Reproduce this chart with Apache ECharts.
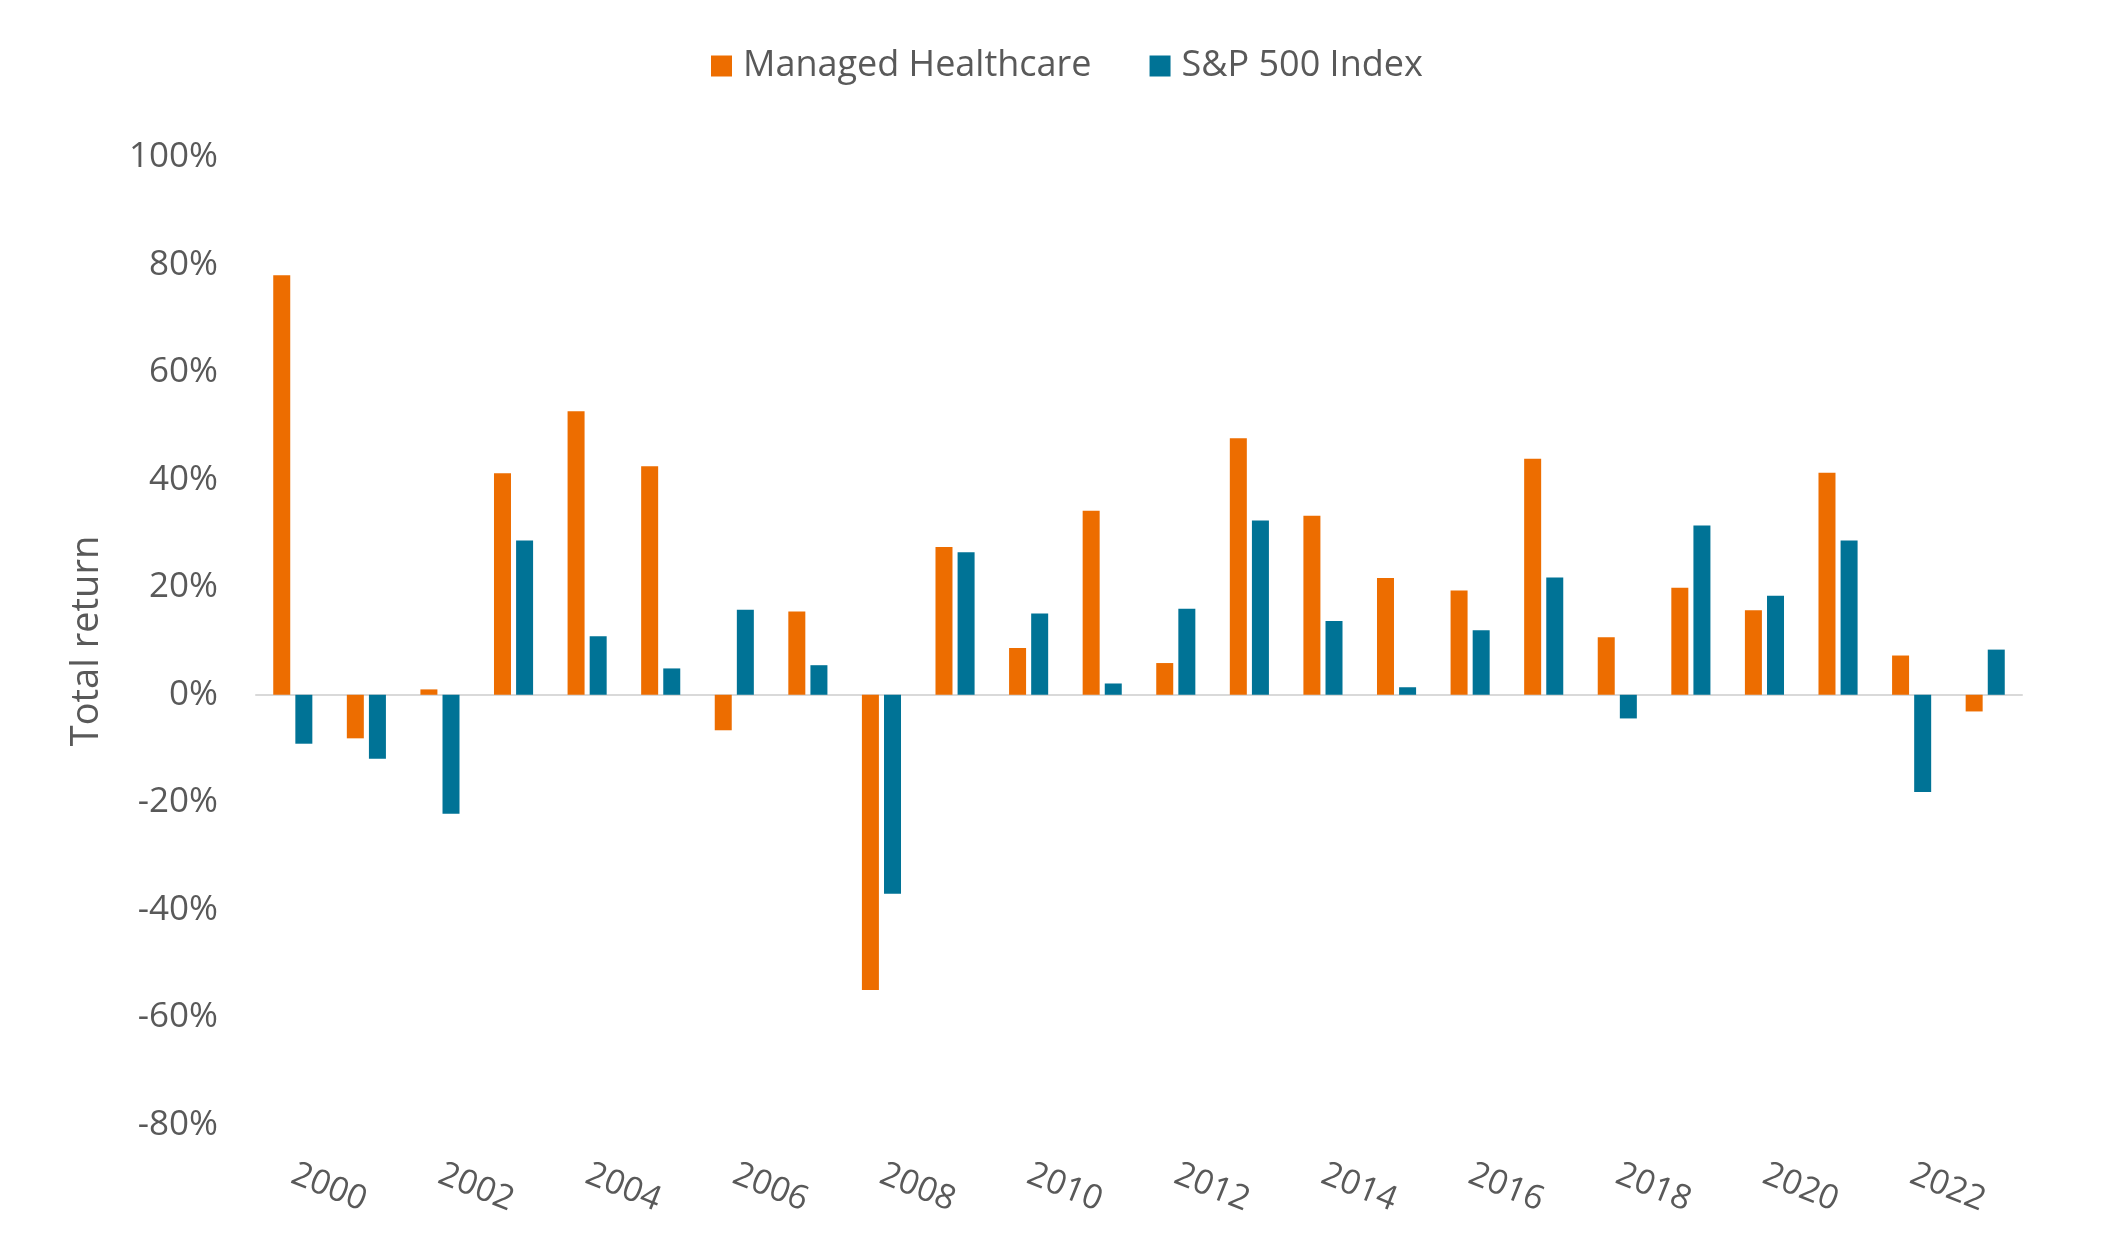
<!DOCTYPE html>
<html>
<head>
<meta charset="utf-8">
<script src="https://cdn.jsdelivr.net/npm/echarts@6/dist/echarts.min.js"></script>
<style>
html,body{margin:0;padding:0;background:#fff;}
#chart{width:2106px;height:1258px;}
</style>
</head>
<body>
<div id="chart"></div>
<script>
const years = ['2000','2001','2002','2003','2004','2005','2006','2007','2008','2009','2010','2011','2012','2013','2014','2015','2016','2017','2018','2019','2020','2021','2022','2023'];
const managedHealthcare = [78.0, -8.1, 1.0, 41.2, 52.7, 42.5, -6.6, 15.5, -54.9, 27.5, 8.7, 34.2, 5.9, 47.7, 33.3, 21.7, 19.4, 43.9, 10.7, 19.9, 15.7, 41.3, 7.3, -3.1];
const sp500 = [-9.1, -11.9, -22.1, 28.7, 10.9, 4.9, 15.8, 5.5, -37.0, 26.5, 15.1, 2.1, 16.0, 32.4, 13.7, 1.4, 12.0, 21.8, -4.4, 31.5, 18.4, 28.7, -18.1, 8.4];
const seriesNames = ['Managed Healthcare', 'S&P 500 Index'];
const yAxisName = 'Total return';

const FONT = '"Open Sans", "Noto Sans", sans-serif';
const TXT = '#595959';
const chart = echarts.init(document.getElementById('chart'));
chart.setOption({
  animation: false,
  backgroundColor: '#ffffff',
  textStyle: { fontFamily: FONT },
  legend: {
    top: 43,
    left: 706,
    itemWidth: 21,
    itemHeight: 21,
    itemGap: 58,
    icon: 'rect',
    textStyle: { color: TXT, fontSize: 36, fontFamily: FONT, padding: [0, 0, 0, 6] },
    data: seriesNames
  },
  grid: { left: 256, right: 84, top: 157, bottom: 133, containLabel: false },
  xAxis: [{
    type: 'category',
    data: years,
    axisLine: { show: false, onZero: false },
    axisTick: { show: false },
    axisLabel: {
      interval: 1,
      rotate: -22,
      margin: 48,
      color: TXT,
      fontSize: 34,
      fontFamily: FONT
    }
  }, {
    type: 'category',
    data: years,
    position: 'bottom',
    axisLine: { show: true, onZero: true, lineStyle: { color: '#d9d9d9', width: 2 } },
    axisTick: { show: false },
    axisLabel: { show: false }
  }],
  yAxis: {
    type: 'value',
    min: -80,
    max: 100,
    interval: 20,
    name: yAxisName,
    nameLocation: 'middle',
    nameGap: 150,
    nameTextStyle: { color: TXT, fontSize: 38, fontFamily: FONT },
    axisLine: { show: false },
    axisTick: { show: false },
    splitLine: { show: false },
    axisLabel: {
      margin: 38,
      color: TXT,
      fontSize: 35,
      fontFamily: FONT,
      formatter: v => v + '%'
    }
  },
  series: [{
    name: seriesNames[0],
    type: 'bar',
    data: managedHealthcare,
    barWidth: 17,
    barGap: '30%',
    itemStyle: { color: '#ED6D00' }
  }, {
    name: seriesNames[1],
    type: 'bar',
    data: sp500,
    barWidth: 17,
    barGap: '30%',
    itemStyle: { color: '#007396' }
  }]
});
</script>
</body>
</html>
